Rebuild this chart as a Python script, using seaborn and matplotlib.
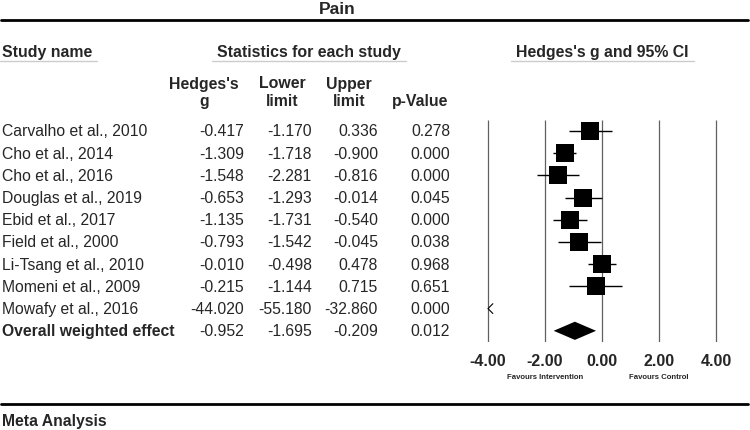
import matplotlib
matplotlib.use("Agg")
import matplotlib.pyplot as plt
import matplotlib.transforms as mtransforms
from matplotlib.lines import Line2D
import seaborn as sns

# study-level statistics
studies = [
    "Carvalho et al., 2010",
    "Cho et al., 2014",
    "Cho et al., 2016",
    "Douglas et al., 2019",
    "Ebid et al., 2017",
    "Field et al., 2000",
    "Li-Tsang et al., 2010",
    "Momeni et al., 2009",
    "Mowafy et al., 2016",
]
hedges_g = [-0.417, -1.309, -1.548, -0.653, -1.135, -0.793, -0.010, -0.215, -44.020]
lower_limit = [-1.170, -1.718, -2.281, -1.293, -1.731, -1.542, -0.498, -1.144, -55.180]
upper_limit = [0.336, -0.900, -0.816, -0.014, -0.540, -0.045, 0.478, 0.715, -32.860]
p_values = [0.278, 0.000, 0.000, 0.045, 0.000, 0.038, 0.968, 0.651, 0.000]

overall_label = "Overall weighted effect"
overall_g = -0.952
overall_lower = -1.695
overall_upper = -0.209
overall_p = 0.012

x_ticks = [-4, -2, 0, 2, 4]

W, H = 750, 431

sns.set_theme(style="white")
plt.rcParams["font.family"] = ["Liberation Sans", "DejaVu Sans"]

fig = plt.figure(figsize=(W / 100, H / 100), dpi=100)


def fx(px):
    return px / W


def fy(py):
    return 1 - py / H


# forest plot panel: -4 at 488px, 4 at 716px; rows from 121px to 343px
ax_left, ax_right = 470.9, 733.1
ax_top, ax_bottom = 120.9, 342.9
ax = fig.add_axes([fx(ax_left), fy(ax_bottom), (ax_right - ax_left) / W, (ax_bottom - ax_top) / H])
n = len(studies)
rows = list(range(n))
xmin, xmax = -4.6, 4.6
ax.set_xlim(xmin, xmax)
ax.set_ylim(n + 0.5, -0.5)

ax.vlines(x_ticks, -0.5, n + 0.5, color="#606060", lw=0.9, zorder=1)

# whiskers and weight boxes (only those on scale)
on_rows = [r for r in rows if lower_limit[r] > xmin]
ax.hlines([rows[r] for r in on_rows], [lower_limit[r] for r in on_rows],
          [upper_limit[r] for r in on_rows], color="black", lw=1.0, zorder=2)
sns.scatterplot(x=[hedges_g[r] for r in on_rows], y=[rows[r] for r in on_rows],
                marker="s", s=150, color="black", linewidth=0, ax=ax, zorder=3)

# off-scale study: arrow at the left edge
for r in rows:
    if upper_limit[r] < x_ticks[0]:
        ax.plot([x_ticks[0] + 0.17, x_ticks[0], x_ticks[0] + 0.17],
                [r - 0.22, r, r + 0.22], color="black", lw=0.8, zorder=3)

# overall diamond
yo = n
ax.fill([overall_lower, overall_g, overall_upper, overall_g],
        [yo, yo - 0.41, yo, yo + 0.41], color="black", lw=0, zorder=3)

ax.set_xticks(x_ticks)
ax.set_xticklabels([f"{t:.2f}" for t in x_ticks], fontsize=11.5, fontweight="bold")
ax.tick_params(axis="x", length=0, pad=8)
ax.set_yticks([])
ax.set_xlabel("")
ax.set_ylabel("")
for s in ax.spines.values():
    s.set_visible(False)
ax.patch.set_alpha(0)

fav_tr = mtransforms.blended_transform_factory(ax.transData, fig.transFigure)
ax.text(-2, fy(378), "Favours Intervention", transform=fav_tr,
        ha="center", va="center", fontsize=5.6, fontweight="bold")
ax.text(2, fy(378), "Favours Control", transform=fav_tr,
        ha="center", va="center", fontsize=5.6, fontweight="bold")

# table text, rows aligned with the plot
tr = mtransforms.blended_transform_factory(fig.transFigure, ax.transData)
col_right = [244, 312, 378, 450]
fs = 11.3
for r in rows:
    fig.text(fx(2), r, studies[r], transform=tr, ha="left", va="center", fontsize=fs)
    vals = [hedges_g[r], lower_limit[r], upper_limit[r], p_values[r]]
    for cx, v in zip(col_right, vals):
        fig.text(fx(cx), r, f"{v:.3f}", transform=tr, ha="right", va="center", fontsize=fs)
fig.text(fx(2), yo, overall_label, transform=tr, ha="left", va="center", fontsize=fs, fontweight="bold")
for cx, v in zip(col_right, [overall_g, overall_lower, overall_upper, overall_p]):
    fig.text(fx(cx), yo, f"{v:.3f}", transform=tr, ha="right", va="center", fontsize=fs)

# headers
fig.text(fx(337), fy(9), "Pain", ha="center", va="center", fontsize=12.5, fontweight="bold")
fig.add_artist(Line2D([fx(1), fx(748)], [fy(21), fy(21)], color="black", lw=2.0, transform=fig.transFigure))
fig.add_artist(Line2D([fx(1), fx(748)], [fy(405), fy(405)], color="black", lw=2.0, transform=fig.transFigure))
fig.text(fx(2), fy(422), "Meta Analysis", ha="left", va="center", fontsize=11.3, fontweight="bold")

groups = [("Study name", 2, 0, 97, "left"),
          ("Statistics for each study", 309, 212, 406, "center"),
          ("Hedges's g and 95% CI", 602.5, 511, 694, "center")]
for label, tx, l0, l1, ha in groups:
    fig.text(fx(tx), fy(53), label, ha=ha, va="center", fontsize=11.4, fontweight="bold")
    fig.add_artist(Line2D([fx(l0), fx(l1)], [fy(62), fy(62)], color="#cccccc", lw=1.0,
                          transform=fig.transFigure))

col_heads = [("Hedges's", "g"), ("Lower", "limit"), ("Upper", "limit"), ("", "p-Value")]
head_centers = [204, 282, 349, 420]
for (l1, l2), cx in zip(col_heads, head_centers):
    if l1:
        fig.text(fx(cx), fy(84), l1, ha="center", va="center", fontsize=11.4, fontweight="bold")
    fig.text(fx(cx), fy(102), l2, ha="center", va="center", fontsize=11.4, fontweight="bold")

fig.savefig("out.png", dpi=100)
